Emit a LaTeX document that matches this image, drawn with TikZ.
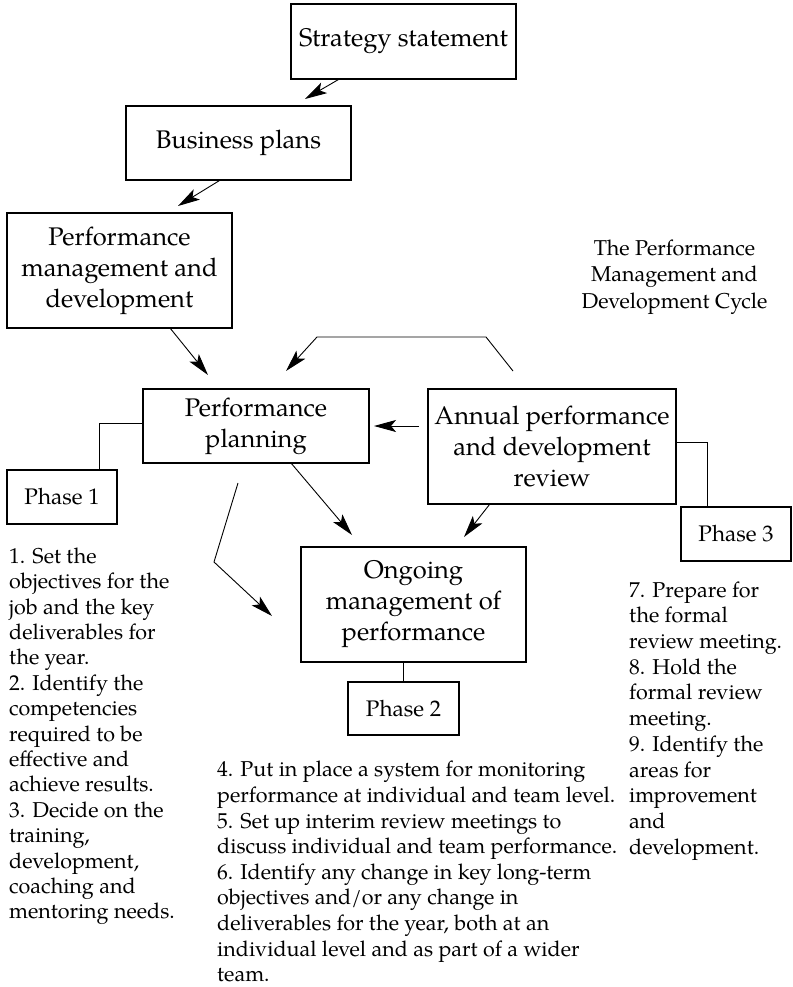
\documentclass[tikz,border=0pt]{standalone}
\usepackage{fontspec}
\setmainfont{TeX Gyre Pagella}
\usetikzlibrary{arrows.meta,calc}
\newcommand\boxfont{\fontsize{25.5}{31}\selectfont}
\newcommand\bodyfont{\fontsize{21.5}{25.7}\selectfont}
\begin{document}
\begin{tikzpicture}[x=1pt,y=-1pt,
  stagebox/.style={draw, line width=1.1pt, inner sep=0pt, align=center, font=\boxfont},
  phasebox/.style={draw, line width=1.1pt, inner sep=0pt, align=center,
                   font=\fontsize{22.5}{27}\selectfont,
                   minimum width=110pt, minimum height=54pt},
  arr/.style={line width=0.9pt, -{Stealth[length=22pt, width=12pt, inset=5pt]}},
  link/.style={line width=0.9pt},
  notes/.style={inner sep=0pt, align=left, font=\bodyfont}]
\useasboundingbox (0,0) rectangle (792,987);

% stages of the cycle
\node[stagebox, minimum width=225pt, minimum height=75pt] (strat) at (403.5,41.5) {Strategy statement};
\node[stagebox, minimum width=225pt, minimum height=74pt] (biz) at (238.5,143) {Business plans};
\node[stagebox, minimum width=225pt, minimum height=115pt] (pmd) at (119.5,270.5)
  {Performance\\management and\\development};
\node[stagebox, minimum width=226pt, minimum height=74pt] (pp) at (256,426) {Performance\\planning};
\node[stagebox, minimum width=248pt, minimum height=115pt] (apdr) at (552,446.5)
  {Annual performance\\and development\\review};
\node[stagebox, minimum width=225pt, minimum height=115pt] (omp) at (413.5,604.5)
  {Ongoing\\management of\\performance};

% phase labels
\node[phasebox] (ph1) at (62,497) {Phase 1};
\node[phasebox, minimum width=111pt, minimum height=53pt] (ph2) at (403.5,708.5) {Phase 2};
\node[phasebox, minimum width=110pt] (ph3) at (736,534) {Phase 3};

% title
\node[notes, align=center, anchor=north, font=\fontsize{21.5}{26.5}\selectfont] (title)
  at (674.5,239.3) {The Performance\\Management and\\Development Cycle};

% free ends of the arrows
\coordinate (t1) at (305,99);
\coordinate (t2) at (178,206);
\coordinate (t3) at (208,375);
\coordinate (fb0) at (513,371);
\coordinate (fb1) at (486,337);
\coordinate (fb2) at (317,337);
\coordinate (t4) at (286,371);
\coordinate (h0) at (419,426);
\coordinate (t5) at (374,426);
\coordinate (t6) at (352,535);
\coordinate (t7) at (464,537);
\coordinate (p0) at (238,483);
\coordinate (p1) at (214,562);
\coordinate (t8) at (272,616);

% arrows
\draw[arr] ($(strat.south west)+(48,0)$) -- (t1);
\draw[arr] ($(biz.south west)+(94,0)$) -- (t2);
\draw[arr] ($(pmd.south west)+(164,0)$) -- (t3);
\draw[arr] (fb0) -- (fb1) -- (fb2) -- (t4);
\draw[arr] (h0) -- (t5);
\draw[arr] ($(pp.south west)+(149,0)$) -- (t6);
\draw[arr] ($(apdr.south west)+(62,0)$) -- (t7);
\draw[arr] (p0) -- (p1) -- (t8);

% phase connectors
\draw[link] ($(pp.west)+(0,-3)$) -| ($(ph1.north)+(37,0)$);
\draw[link] ($(apdr.east)+(0,-4.5)$) -| ($(ph3.north)+(-29,0)$);
\draw[link] (ph2.north) -- (ph2.north |- omp.south);

% phase notes
\node[notes, anchor=north west, font=\fontsize{21.5}{25.4}\selectfont] (notes1) at (9,547.5)
  {1. Set the\\objectives for the\\job and the key\\deliverables for\\the year.\\2. Identify the\\competencies\\required to be\\effective and\\achieve results.\\3. Decide on the\\training,\\development,\\coaching and\\mentoring needs.};
\node[notes, anchor=north west, font=\fontsize{21.5}{25.6}\selectfont] (notes2) at (217,761)
  {4. Put in place a system for monitoring\\performance at individual and team level.\\5. Set up interim review meetings to\\discuss individual and team performance.\\6. Identify any change in key long-term\\objectives and/or any change in\\deliverables for the year, both at an\\individual level and as part of a wider\\team.};
\node[notes, anchor=north west] (notes3) at (629,581.3)
  {7. Prepare for\\the formal\\review meeting.\\8. Hold the\\formal review\\meeting.\\9. Identify the\\areas for\\improvement\\and\\development.};
\end{tikzpicture}
\end{document}
